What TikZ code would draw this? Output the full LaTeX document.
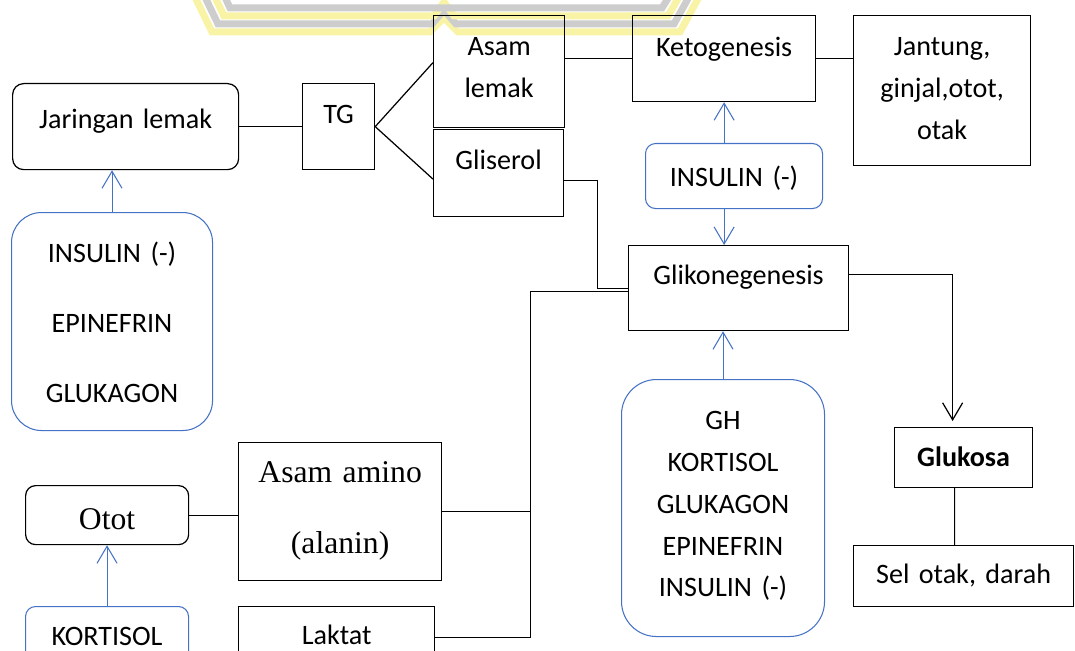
\documentclass[tikz,border=0pt]{standalone}
\usepackage{fontspec}
\setmainfont{Carlito}
\newfontfamily\tnrfont{Liberation Serif}
\definecolor{hrmblue}{RGB}{68,114,196}
\definecolor{wmyellow}{RGB}{248,243,165}
\definecolor{wmgray}{RGB}{205,205,205}
\usetikzlibrary{arrows.meta,calc}

\begin{document}
\begin{tikzpicture}[>={Straight Barb[length=0.34cm,width=0.40cm]},
  kotak/.style={draw,line width=0.7pt,inner sep=0pt,align=center,anchor=north west,
        font=\fontsize{16}{23.8}\selectfont},
  kotakr/.style={kotak,rounded corners=0.22cm},
  hormon/.style={kotak,draw=hrmblue,line width=0.6pt},
  panah/.style={->,draw=hrmblue,line width=0.6pt},
  garis/.style={line width=0.7pt}]
  \useasboundingbox (0,0) rectangle (21.5,-13.02);
  \clip (0,0) rectangle (21.5,-13.02);
  %% watermark (top edge)
  \draw[wmyellow,line width=0.14cm] (3.88,0.1) -- (4.24,-0.64) -- (8.60,-0.64) -- (8.88,-0.36)
        -- (9.16,-0.64) -- (13.60,-0.64) -- (14.00,0.1);
  \draw[wmgray,line width=0.14cm] (4.08,0.1) -- (4.36,-0.48) -- (8.64,-0.48) -- (8.88,-0.20)
        -- (9.12,-0.48) -- (13.48,-0.48) -- (13.80,0.1);
  \draw[wmyellow,line width=0.14cm] (4.28,0.1) -- (4.48,-0.32) -- (8.68,-0.32) -- (8.88,-0.04)
        -- (9.08,-0.32) -- (13.36,-0.32) -- (13.60,0.1);
  \draw[wmgray,line width=0.14cm] (4.48,0.1) -- (4.60,-0.16) -- (13.24,-0.16) -- (13.40,0.1);
  %% Lipolisis
  \node[kotakr,text width=4.52cm,text height=0.90cm,text depth=0.82cm] (jaringan) at (0.24,-1.66) {Jaringan lemak};
  \node[kotak,text width=1.44cm,text height=0.80cm,text depth=0.92cm] (tg) at (6.04,-1.66) {TG};
  \node[kotak,text width=2.62cm,text height=0.80cm,text depth=1.44cm] (asamlemak) at (8.66,-0.30) {Asam\\lemak};
  \node[kotak,text width=2.60cm,text height=0.80cm,text depth=0.94cm] (gliserol) at (8.66,-2.58) {Gliserol};
  \node[kotak,text width=3.66cm,text height=0.82cm,text depth=0.90cm] (keto) at (12.64,-0.30) {Ketogenesis};
  \node[kotak,text width=3.54cm,text height=0.80cm,text depth=2.20cm] (jantung) at (17.06,-0.30) {Jantung,\\ginjal,otot,\\otak};
  \node[hormon,rounded corners=0.2cm,text width=3.54cm,text height=0.86cm,text depth=0.44cm] (insketo) at (12.90,-2.86) {INSULIN (-)};
  \node[hormon,rounded corners=0.6cm,text width=4.02cm,text height=1.00cm,text depth=3.36cm,
        font=\fontsize{16}{39.7}\selectfont] (hrmlemak) at (0.22,-4.24) {INSULIN (-)\\EPINEFRIN\\GLUKAGON};
  %% Glukoneogenesis
  \node[kotak,text width=4.40cm,text height=0.78cm,text depth=0.92cm] (gliko) at (12.56,-4.90) {Glikonegenesis};
  \node[hormon,rounded corners=0.7cm,text width=4.06cm,text height=1.00cm,text depth=4.14cm] (hrmgliko) at (12.42,-7.58)
        {GH\\KORTISOL\\GLUKAGON\\EPINEFRIN\\INSULIN (-)};
  \node[kotak,text width=2.76cm,text height=0.78cm,text depth=0.42cm,
        font=\fontsize{16}{23.8}\selectfont\bfseries] (glukosa) at (17.88,-8.54) {Glukosa};
  \node[kotak,text width=4.40cm,text height=0.76cm,text depth=0.46cm] (sel) at (17.06,-10.90) {Sel otak, darah};
  %% Otot
  \node[kotak,text width=4.06cm,text height=0.80cm,text depth=1.96cm,
        font=\tnrfont\fontsize{18}{40.3}\selectfont] (amino) at (4.76,-8.84) {Asam amino\\(alanin)};
  \node[kotakr,rounded corners=0.2cm,text width=3.26cm,text height=0.88cm,text depth=0.30cm,
        font=\tnrfont\fontsize{18}{21}\selectfont] (otot) at (0.50,-9.70) {Otot};
  \node[hormon,rounded corners=0.2cm,text width=3.26cm,text height=0.78cm,text depth=0.82cm] (kortisol) at (0.50,-12.12) {KORTISOL};
  \node[kotak,text width=3.92cm,text height=0.76cm,text depth=0.48cm] (laktat) at (4.76,-12.12) {Laktat};
  %% garis
  \draw[garis] (jaringan.east) -- (tg.west);
  \draw[garis] (tg.east) -- ([yshift=0.18cm]asamlemak.west);
  \draw[garis] (tg.east) -- ([yshift=-0.12cm]gliserol.west);
  \draw[garis] (keto.west -| asamlemak.east) -- (keto.west);
  \draw[garis] (keto.east) -- (keto.east -| jantung.west);
  \draw[garis] ([yshift=-0.15cm]gliserol.east) -- ++(0.66,0) |- (gliko.west);
  \draw[garis] (laktat.east) -- ++(1.90,0) coordinate (simpul) |- ([yshift=-0.06cm]gliko.west);
  \draw[garis] (amino.east) -- (amino.east -| simpul);
  \draw[garis] (otot.east) -- (otot.east -| amino.west);
  \draw[garis,->,shorten >=0.12cm] ([yshift=0.27cm]gliko.east) -| ([xshift=-0.22cm]glukosa.north);
  \draw[garis] ([xshift=-0.18cm]glukosa.south) -- ([xshift=-0.18cm]sel.north);
  %% hormon
  \draw[panah] (hrmlemak.north) -- (hrmlemak.north |- jaringan.south);
  \draw[panah] (kortisol.north) -- (kortisol.north |- otot.south);
  \draw[panah] (keto.south |- insketo.north) -- (keto.south);
  \draw[panah] (keto.south |- insketo.south) -- (keto.south |- gliko.north);
  \draw[panah] (hrmgliko.north) -- (hrmgliko.north |- gliko.south);
\end{tikzpicture}
\end{document}
